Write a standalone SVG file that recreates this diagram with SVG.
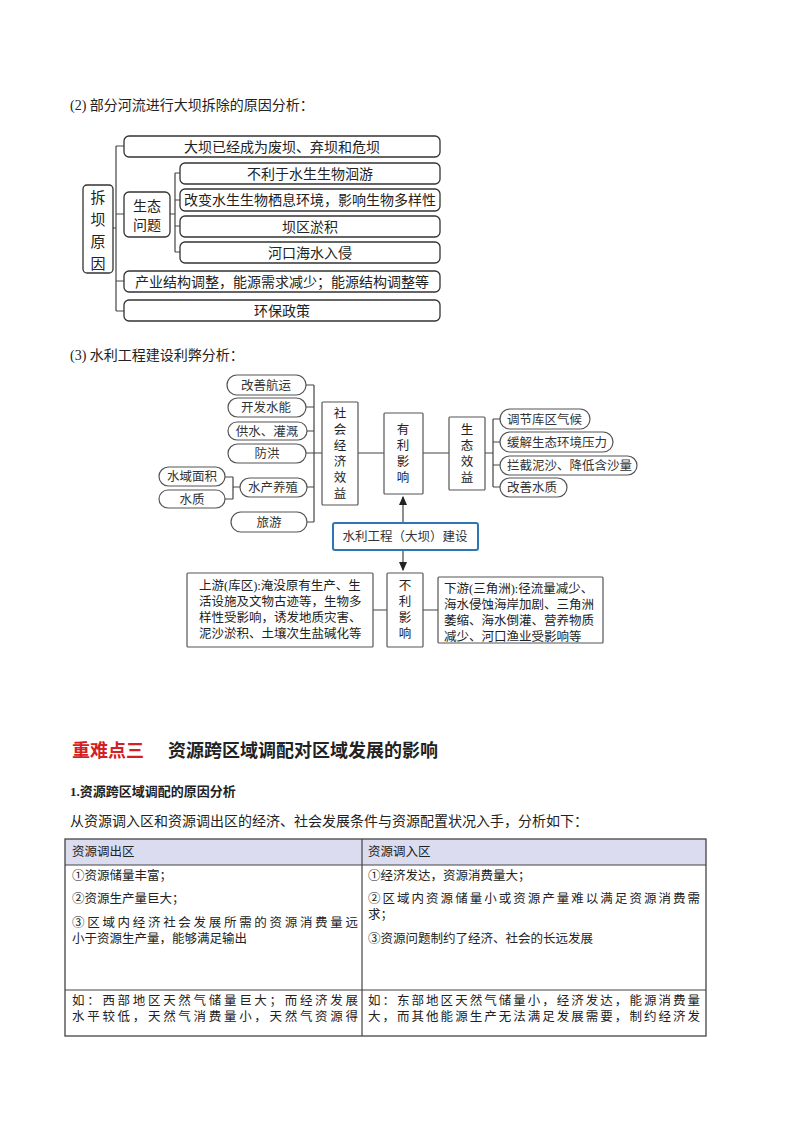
<svg xmlns="http://www.w3.org/2000/svg" width="800" height="1132" viewBox="0 0 800 1132">
<style>
text{font-family:"Liberation Serif","Noto Sans CJK SC",serif;fill:#222}
.t{font-size:14px}
.b{fill:#fff;stroke:#333;stroke-width:1.3}
.g{fill:#fff;stroke:#555;stroke-width:1.2}
.c{font-family:"Noto Sans CJK SC",sans-serif;font-size:12.5px;fill:#333}
.ln{stroke:#444;stroke-width:1.2;fill:none}
.tb{font-family:"Noto Sans CJK SC",sans-serif;font-size:12.5px;fill:#333}
</style>
<defs><marker id="ah" markerWidth="8" markerHeight="8" refX="7" refY="4" orient="auto"><path d="M0,0.5 L8,4 L0,7.5z" fill="#222"/></marker></defs>
<rect width="800" height="1132" fill="#fff"/>
<text class="t" x="70" y="110">(2) 部分河流进行大坝拆除的原因分析：</text>
<g id="connectors1" class="ln">
<path d="M113,228 H116 M116,146 V311 M116,146 H124 M116,214 H124 M116,281 H124 M116,311 H124"/>
<path d="M170,214 H175 M175,173 V252 M175,173 H180 M175,200 H180 M175,226 H180 M175,252 H180"/>
</g>
<g id="n_cb"><rect class="b" x="83" y="185" width="30" height="88" rx="4"/><text x="98" y="203" font-size="15" text-anchor="middle">拆</text><text x="98" y="225" font-size="15" text-anchor="middle">坝</text><text x="98" y="247" font-size="15" text-anchor="middle">原</text><text x="98" y="269" font-size="15" text-anchor="middle">因</text></g>
<g id="n_a1"><rect class="b" x="124" y="136" width="316" height="21" rx="5"/><text class="t" x="282" y="152" text-anchor="middle">大坝已经成为废坝、弃坝和危坝</text></g>
<g id="n_st"><rect class="b" x="124" y="192" width="46" height="45" rx="5"/><text class="t" x="147" y="211" text-anchor="middle">生态</text><text class="t" x="147" y="230" text-anchor="middle">问题</text></g>
<g id="n_s1"><rect class="b" x="180" y="163" width="260" height="21" rx="5"/><text class="t" x="310" y="179" text-anchor="middle">不利于水生生物洄游</text></g>
<g id="n_s2"><rect class="b" x="180" y="189" width="260" height="22" rx="5"/><text class="t" x="310" y="205" text-anchor="middle">改变水生生物栖息环境，影响生物多样性</text></g>
<g id="n_s3"><rect class="b" x="180" y="216" width="260" height="21" rx="5"/><text class="t" x="310" y="232" text-anchor="middle">坝区淤积</text></g>
<g id="n_s4"><rect class="b" x="180" y="242" width="260" height="21" rx="5"/><text class="t" x="310" y="258" text-anchor="middle">河口海水入侵</text></g>
<g id="n_a3"><rect class="b" x="124" y="271" width="316" height="21" rx="5"/><text class="t" x="282" y="287" text-anchor="middle">产业结构调整，能源需求减少；能源结构调整等</text></g>
<g id="n_a4"><rect class="b" x="124" y="300" width="316" height="21" rx="5"/><text class="t" x="282" y="316" text-anchor="middle">环保政策</text></g>

<text class="t" x="70" y="360">(3) 水利工程建设利弊分析：</text>
<g id="connectors2" class="ln">
<path d="M306,385 H314 M306,407 H314 M307,431 H314 M306,453 H314 M307,487 H314 M307,522 H314 M314,385 V522 M314,453 H322"/>
<path d="M225,477 H233 M225,499 H233 M233,477 V499 M233,487 H240"/>
<path d="M358,453 H384 M423,453 H449 M485,453 H493 M493,419 V487 M493,419 H500 M493,442 H500 M493,465 H500 M493,487 H500"/>
<path d="M403,523 V497" marker-end="url(#ah)"/>
<path d="M403,550 V570" marker-end="url(#ah)"/>
<path d="M373,610 H387 M423,610 H438"/>
</g>
<g id="n_l1"><rect class="g" x="227" y="375" width="79" height="20" rx="10"/><text class="c" x="266" y="390" text-anchor="middle">改善航运</text></g>
<g id="n_l2"><rect class="g" x="228" y="398" width="78" height="19" rx="9.5"/><text class="c" x="266" y="412" text-anchor="middle">开发水能</text></g>
<g id="n_l3"><rect class="g" x="228" y="422" width="79" height="18" rx="9"/><text class="c" x="267" y="436" text-anchor="middle">供水、灌溉</text></g>
<g id="n_l4"><rect class="g" x="228" y="444" width="78" height="19" rx="9.5"/><text class="c" x="267" y="458" text-anchor="middle">防洪</text></g>
<g id="n_l5"><rect class="g" x="240" y="478" width="67" height="19" rx="9.5"/><text class="c" x="273" y="492" text-anchor="middle">水产养殖</text></g>
<g id="n_l6"><rect class="g" x="231" y="512" width="76" height="20" rx="10"/><text class="c" x="269" y="527" text-anchor="middle">旅游</text></g>
<g id="n_l7"><rect class="g" x="159" y="467" width="66" height="19" rx="9.5"/><text class="c" x="192" y="481" text-anchor="middle">水域面积</text></g>
<g id="n_l8"><rect class="g" x="159" y="490" width="66" height="18" rx="9"/><text class="c" x="192" y="504" text-anchor="middle">水质</text></g>
<g id="n_sj"><rect class="g" x="322" y="402" width="36" height="103" rx="1"/><g class="c" text-anchor="middle"><text x="340" y="418">社</text><text x="340" y="434">会</text><text x="340" y="450">经</text><text x="340" y="466">济</text><text x="340" y="482">效</text><text x="340" y="498">益</text></g></g>
<g id="n_yl"><rect class="g" x="384" y="413" width="39" height="81" rx="1"/><g class="c" text-anchor="middle"><text x="403" y="434">有</text><text x="403" y="450">利</text><text x="403" y="466">影</text><text x="403" y="482">响</text></g></g>
<g id="n_st2"><rect class="g" x="449" y="417" width="36" height="73" rx="1"/><g class="c" text-anchor="middle"><text x="467" y="434">生</text><text x="467" y="450">态</text><text x="467" y="466">效</text><text x="467" y="482">益</text></g></g>
<g id="n_r1"><rect class="g" x="500" y="409" width="90" height="20" rx="10"/><text class="c" x="507" y="424">调节库区气候</text></g>
<g id="n_r2"><rect class="g" x="500" y="432" width="113" height="20" rx="10"/><text class="c" x="507" y="447">缓解生态环境压力</text></g>
<g id="n_r3"><rect class="g" x="500" y="456" width="137" height="19" rx="9.5"/><text class="c" x="507" y="470">拦截泥沙、降低含沙量</text></g>
<g id="n_r4"><rect class="g" x="500" y="478" width="67" height="19" rx="9.5"/><text class="c" x="507" y="492">改善水质</text></g>
<g id="n_c"><rect x="333" y="523" width="145" height="27" rx="2" fill="#fff" stroke="#2e75b6" stroke-width="2"/><text class="c" x="405" y="541" text-anchor="middle">水利工程（大坝）建设</text></g>
<g id="n_bl"><rect class="g" x="387" y="573" width="36" height="74" rx="1"/><g class="c" text-anchor="middle"><text x="405" y="590">不</text><text x="405" y="606">利</text><text x="405" y="622">影</text><text x="405" y="638">响</text></g></g>
<g id="n_up"><rect class="g" x="187" y="573" width="186" height="74" rx="1"/><g class="c"><text x="199" y="590">上游(库区):淹没原有生产、生</text><text x="199" y="606">活设施及文物古迹等，生物多</text><text x="199" y="622">样性受影响，诱发地质灾害、</text><text x="199" y="638">泥沙淤积、土壤次生盐碱化等</text></g></g>
<g id="n_dn"><rect class="g" x="438" y="577" width="165" height="66" rx="1"/><g class="c"><text x="444" y="593">下游(三角洲):径流量减少、</text><text x="444" y="609">海水侵蚀海岸加剧、三角洲</text><text x="444" y="625">萎缩、海水倒灌、营养物质</text><text x="444" y="641">减少、河口渔业受影响等</text></g></g>

<text x="72" y="757" font-family="Noto Sans CJK SC,sans-serif" font-size="18" font-weight="bold" fill="#d42020" style="fill:#d42020">重难点三</text>
<text x="168" y="757" font-family="Noto Sans CJK SC,sans-serif" font-size="18" font-weight="bold">资源跨区域调配对区域发展的影响</text>
<text x="70" y="796" font-size="13" font-weight="bold">1.资源跨区域调配的原因分析</text>
<text x="70" y="826" font-size="14" fill="#333">从资源调入区和资源调出区的经济、社会发展条件与资源配置状况入手，分析如下：</text>
<g id="table">
<rect x="65" y="839" width="641" height="26" fill="#dcdcf0"/>
<rect x="65" y="839" width="641" height="197" fill="none" stroke="#444" stroke-width="1.3"/>
<path d="M65,865 H706 M65,990 H706 M362,839 V1036" stroke="#444" stroke-width="1.2"/>
<g class="tb">
<text x="72" y="856">资源调出区</text><text x="368" y="856">资源调入区</text>
<text x="72" y="880">①资源储量丰富；</text><text x="72" y="903">②资源生产量巨大；</text>
<text x="72" y="927" textLength="286">③区域内经济社会发展所需的资源消费量远</text><text x="72" y="943">小于资源生产量，能够满足输出</text>
<text x="368" y="880">①经济发达，资源消费量大；</text><text x="368" y="903" textLength="332">②区域内资源储量小或资源产量难以满足资源消费需</text><text x="368" y="919">求；</text><text x="368" y="943">③资源问题制约了经济、社会的长远发展</text>
<text x="72" y="1005" textLength="286">如：西部地区天然气储量巨大；而经济发展</text><text x="72" y="1021" textLength="286">水平较低，天然气消费量小，天然气资源得</text>
<text x="368" y="1005" textLength="332">如：东部地区天然气储量小，经济发达，能源消费量</text><text x="368" y="1021" textLength="332">大，而其他能源生产无法满足发展需要，制约经济发</text>
</g>
</g>
</svg>
